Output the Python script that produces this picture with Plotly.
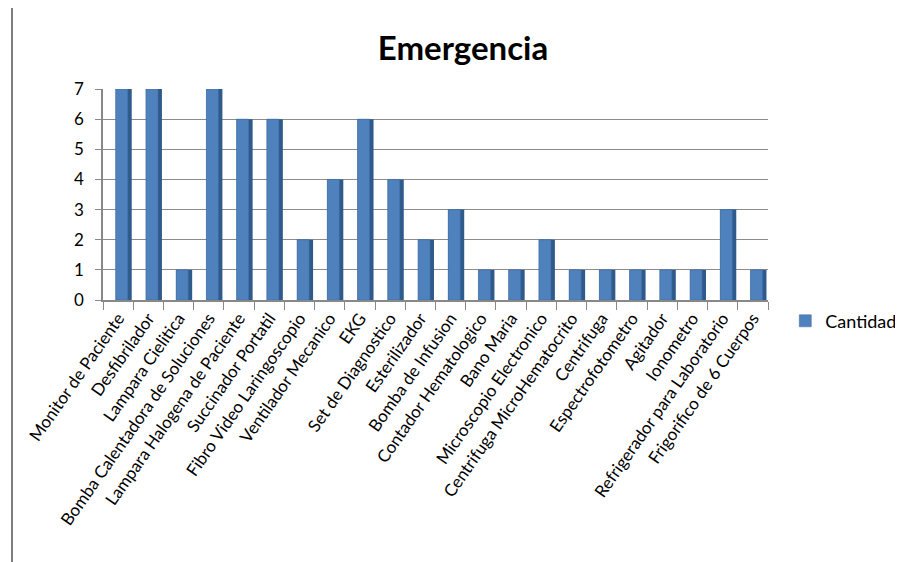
import plotly.graph_objects as go

categories = ["Monitor de Paciente", "Desfibrilador", "Lampara Cielitica",
              "Bomba Calentadora de Soluciones", "Lampara Halogena de Paciente",
              "Succinador Portatil", "Fibro Video Laringoscopio", "Ventilador Mecanico",
              "EKG", "Set de Diagnostico", "Esterilizador", "Bomba de Infusion",
              "Contador Hematologico", "Bano Maria", "Microscopio Electronico",
              "Centrifuga MicroHematocrito", "Centrifuga", "Espectrofotometro",
              "Agitador", "Ionometro", "Refrigerador para Laboratorio",
              "Frigorifico de 6 Cuerpos"]
cantidad = [7, 7, 1, 7, 6, 6, 2, 4, 6, 4, 2, 3, 1, 1, 2, 1, 1, 1, 1, 1, 3, 1]
y_ticks = [0, 1, 2, 3, 4, 5, 6, 7]

FONT = "Lato, Open Sans, Liberation Sans, sans-serif"
L, R, T, B = 95, 143, 81, 270
PW, PH = 903 - L - R, 562 - T - B

fig = go.Figure()
# darker side face for a 3D look
fig.add_trace(go.Bar(x=categories, y=cantidad, width=0.53, offset=-0.08,
                     marker=dict(color="#2F5A8C", line=dict(width=0)),
                     showlegend=False, hoverinfo="skip"))
fig.add_trace(go.Bar(x=categories, y=cantidad, name="Cantidad", width=0.40, offset=-0.08,
                     marker=dict(color="#4F81BD", line=dict(color="#3C6AA0", width=0.5))))

fig.update_layout(
    width=903, height=562,
    barmode="overlay",
    paper_bgcolor="white", plot_bgcolor="white",
    margin=dict(l=L, r=R, t=T, b=B, autoexpand=False),
    title=dict(text="<b>Emergencia</b>", x=455 / 903, xanchor="center", y=1 - 40 / 562,
               yanchor="middle", font=dict(family=FONT, size=33, color="black")),
    font=dict(family=FONT, color="black"),
    legend=dict(x=1.026, y=-0.1, xanchor="left", yanchor="middle",
                font=dict(size=18), itemwidth=30, traceorder="normal"),
    xaxis=dict(tickangle=-55, tickfont=dict(size=17), showline=True, linecolor="#888888",
               linewidth=1.5, ticks="outside", ticklen=8, tickcolor="#888888",
               tickson="boundaries",
               showgrid=False, range=[-0.5, len(categories) - 0.5], automargin=False),
    yaxis=dict(range=[0, 7], tickvals=y_ticks, tickfont=dict(size=17), showline=True,
               linecolor="#888888", linewidth=1.5, ticks="outside", ticklen=6,
               tickcolor="#888888", gridcolor="#8C8C8C", gridwidth=1.2, zeroline=False,
               ticklabelstandoff=8, automargin=False),
)
fig.add_shape(type="line", xref="paper", yref="paper", x0=(4 - L) / PW, x1=(4 - L) / PW,
              y0=-(B + 10) / PH, y1=(PH + T + 10) / PH, line=dict(color="#555555", width=1.5))
fig.write_html("out.html")
